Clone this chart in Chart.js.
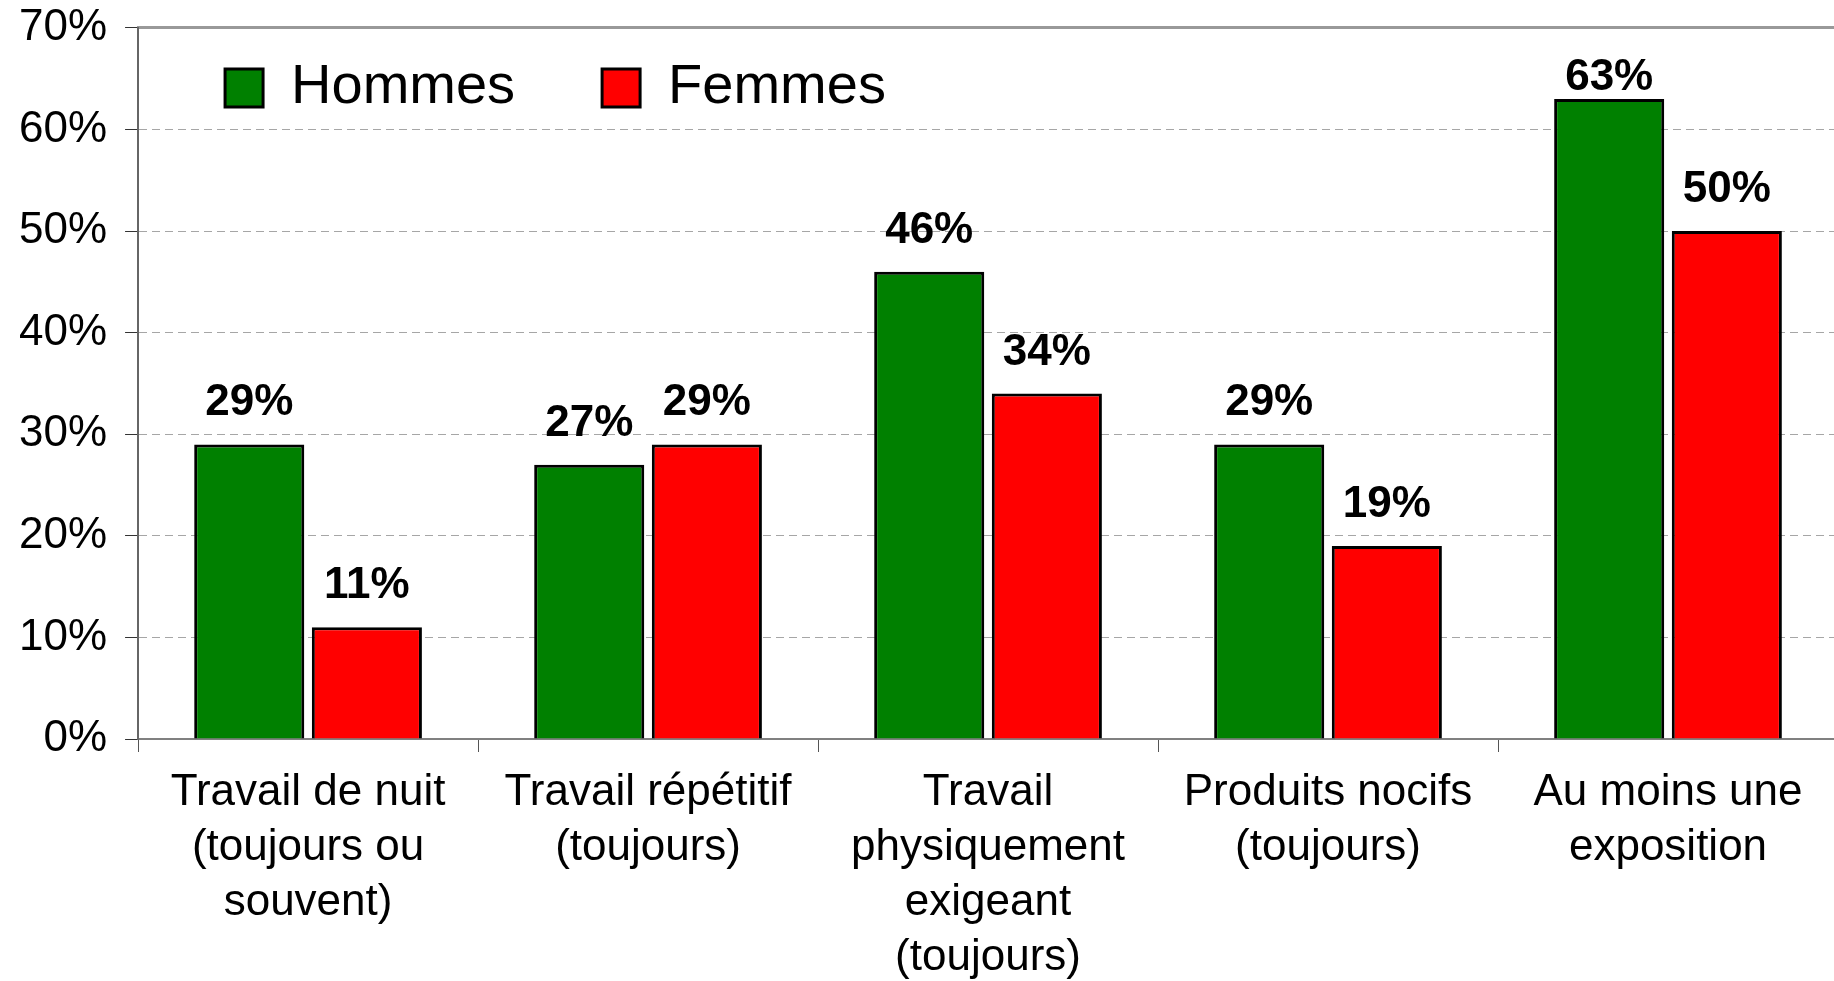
<!DOCTYPE html>
<html lang="fr">
<head>
<meta charset="utf-8">
<title>Expositions Hommes / Femmes</title>
<script src="https://cdn.jsdelivr.net/npm/chart.js@4/dist/chart.umd.min.js"></script>
<style>
    html, body { margin: 0; padding: 0; background: #fff; overflow: hidden; }
    #wrap { width: 1838px; height: 981px; position: relative; }
</style>
</head>
<body>
<div id="wrap"><canvas id="chart"></canvas></div>
<script>
const categories = [
    ['Travail de nuit', '(toujours ou', 'souvent)'],
    ['Travail répétitif', '(toujours)'],
    ['Travail', 'physiquement', 'exigeant', '(toujours)'],
    ['Produits nocifs', '(toujours)'],
    ['Au moins une', 'exposition']
];
const hommes = [29, 27, 46, 29, 63];
const femmes = [11, 29, 34, 19, 50];
const yTicks = [0, 10, 20, 30, 40, 50, 60, 70];

const FONT = "'Liberation Sans', Arial, sans-serif";

// value labels above each bar (kept inside the plot near the top)
const barValueLabels = {
    id: 'barValueLabels',
    afterDatasetsDraw(chart) {
        const { ctx, chartArea } = chart;
        ctx.save();
        ctx.font = "bold 44px " + FONT;
        ctx.fillStyle = '#000';
        ctx.textAlign = 'center';
        ctx.textBaseline = 'alphabetic';
        chart.data.datasets.forEach((ds, i) => {
            chart.getDatasetMeta(i).data.forEach((bar, j) => {
                const y = Math.max(bar.y - 29, chartArea.top + 62);
                ctx.fillText(ds.data[j] + '%', bar.x, y);
            });
        });
        ctx.restore();
    }
};

// the legend takes (almost) no layout room; move it inside the plot, top-left
const legendInside = {
    id: 'legendInside',
    afterLayout(chart) {
        const legend = chart.legend;
        if (!legend) return;
        const area = chart.chartArea;
        legend.left = area.left;
        legend.right = area.right;
        legend.top = area.top - 55;
        legend.bottom = area.top + 150;
    }
};

Chart.defaults.font.family = FONT;
Chart.defaults.color = '#000';

new Chart(document.getElementById('chart').getContext('2d'), {
    type: 'bar',
    data: {
        labels: categories,
        datasets: [
            {
                label: 'Hommes',
                data: hommes,
                backgroundColor: '#008000',
                borderColor: '#000',
                borderWidth: 3,
                categoryPercentage: 0.692,
                barPercentage: 0.936
            },
            {
                label: 'Femmes',
                data: femmes,
                backgroundColor: '#ff0000',
                borderColor: '#000',
                borderWidth: 3,
                categoryPercentage: 0.692,
                barPercentage: 0.936
            }
        ]
    },
    options: {
        responsive: true,
        maintainAspectRatio: false,
        animation: false,
        layout: { padding: { left: 1, top: 0, right: 0, bottom: -17 } },
        plugins: {
            legend: {
                position: 'top',
                align: 'start',
                fullSize: false,
                maxHeight: 1,
                labels: {
                    boxWidth: 38,
                    boxHeight: 38,
                    padding: 87,
                    color: '#000',
                    font: { size: 56 }
                }
            },
            tooltip: { enabled: false }
        },
        scales: {
            x: {
                grid: {
                    offset: true,
                    drawOnChartArea: false,
                    drawTicks: true,
                    tickLength: 13,
                    tickColor: '#555',
                    tickWidth: 1
                },
                border: { color: '#808080', width: 2 },
                ticks: {
                    maxRotation: 0,
                    autoSkip: false,
                    padding: 13,
                    color: '#000',
                    font: { size: 44, lineHeight: 1.25 }
                }
            },
            xTop: {
                type: 'category',
                position: 'top',
                labels: categories,
                grid: { display: false, drawTicks: false },
                ticks: { display: false },
                border: { color: '#999', width: 3 }
            },
            y: {
                min: 0,
                max: 70,
                afterBuildTicks(scale) {
                    scale.ticks = yTicks.map(v => ({ value: v }));
                },
                grid: {
                    color: c => (c.tick && (c.tick.value === 0 || c.tick.value === 70)) ? 'rgba(0,0,0,0)' : '#a6a6a6',
                    lineWidth: 1,
                    tickLength: 13,
                    tickColor: '#333',
                    tickBorderDash: [],
                    tickWidth: 1
                },
                border: { color: '#666', width: 2, dash: [8, 5] },
                ticks: {
                    padding: 18,
                    color: '#000',
                    // small line height only trims the top padding; single-line labels stay centred
                    font: { size: 44, lineHeight: 0.45 },
                    callback: v => v + '%'
                }
            }
        }
    },
    plugins: [barValueLabels, legendInside]
});
</script>
</body>
</html>
